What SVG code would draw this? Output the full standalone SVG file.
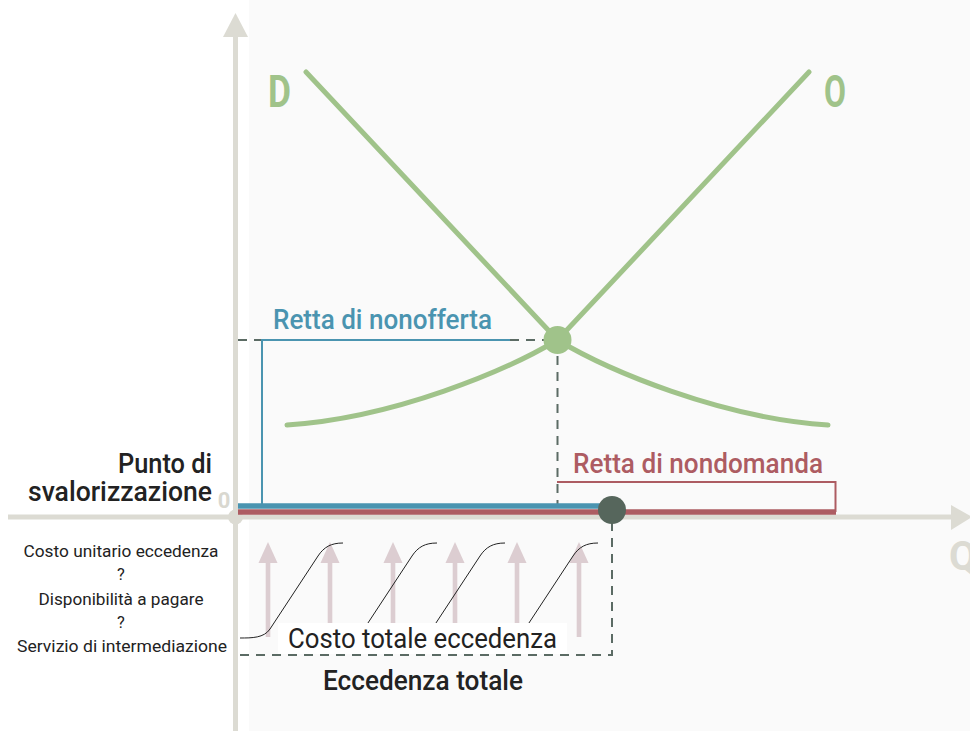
<svg xmlns="http://www.w3.org/2000/svg" width="970" height="731" viewBox="0 0 970 731">
<style>
text{font-family:Roboto,"DejaVu Sans",sans-serif}
.axis{stroke:#dcdbd3;stroke-width:5;fill:none}
.axfill{fill:#dcdbd3}
.dash{stroke:#5b6b64;stroke-width:2;stroke-dasharray:9 7;fill:none}
.curve{stroke:#a0c38a;stroke-width:5;fill:none;stroke-linecap:round}
.blue{stroke:#4a94b0;fill:none}
.red{stroke:#ad5c62;fill:none}
.pink{fill:#dccdd1}
.s{stroke:#222;stroke-width:1;fill:none}
.dark{fill:#222}
.big{font-size:27px;font-weight:500}
.small{font-size:16.5px;fill:#222;text-anchor:middle}
</style>
<defs>
<g id="pa"><polygon class="pink" points="0,542 -9.5,563 9.5,563"/><rect class="pink" x="-2.3" y="560" width="4.6" height="77"/></g>
<path id="sc" class="s" d="M0,95 C12,95 24,95 30,86 L78,13 C84,4 91,0 103,0"/>
</defs>
<rect x="0" y="0" width="970" height="731" fill="#ffffff"/>
<rect x="249" y="0" width="721" height="731" fill="#fafafa"/>
<g id="axes">
<line class="axis" x1="235.5" y1="30" x2="235.5" y2="731"/>
<polygon class="axfill" points="235.5,13 223,37 248,37"/>
<line class="axis" x1="8" y1="517" x2="955" y2="517"/>
<polygon class="axfill" points="972,517 951,505 951,530"/>
<circle class="axfill" cx="235.5" cy="517" r="7.5"/>
<text x="224" y="508" font-size="22" font-weight="700" fill="#d9d8d0" text-anchor="middle">0</text>
<text x="949" y="570" font-size="40" font-weight="700" fill="#dcdbd3">Q</text>
</g>
<g id="connectors">
<line class="dash" x1="238" y1="340" x2="545" y2="340"/>
<line class="dash" x1="557.5" y1="356" x2="557.5" y2="506"/>
<polyline class="dash" points="612,522 612,655 240,655"/>
<path class="blue" stroke-width="2" d="M262,506 V340 H510"/>
<path class="red" stroke-width="2" d="M557,482 H835.5 V512"/>
<line class="red" stroke-width="5.5" x1="238" y1="512" x2="836" y2="512"/>
<line class="blue" stroke-width="5.5" x1="238" y1="506" x2="605" y2="506"/>
</g>
<g id="curve-D">
<path class="curve" d="M306,72 L557.5,340 C607.5,370 720,418 828,425"/>
<text x="268" y="107" font-size="45" font-weight="700" fill="#a0c38a" textLength="23" lengthAdjust="spacingAndGlyphs">D</text>
</g>
<g id="curve-O">
<path class="curve" d="M287,425 C395,418 507.5,370 557.5,340 L809,72"/>
<text x="824" y="107" font-size="45" font-weight="700" fill="#a0c38a" textLength="22" lengthAdjust="spacingAndGlyphs">O</text>
</g>
<g id="equilibrium"><circle cx="557.5" cy="340" r="14" fill="#a0c38a"/></g>
<g id="excess-point"><circle cx="612" cy="510" r="14" fill="#56665c"/></g>
<g id="arrows">
<use href="#pa" x="268"/>
<use href="#pa" x="330"/>
<use href="#pa" x="393"/>
<use href="#pa" x="455"/>
<use href="#pa" x="517"/>
<use href="#pa" x="579"/>
<use href="#sc" x="240" y="543"/>
<use href="#sc" x="334" y="543"/>
<use href="#sc" x="402" y="543"/>
<use href="#sc" x="495" y="543"/>
</g>
<g id="label-costo-totale">
<rect x="278" y="623" width="289" height="31" fill="#ffffff"/>
<text x="288" y="648" font-size="27" fill="#222" textLength="269" lengthAdjust="spacingAndGlyphs">Costo totale eccedenza</text>
</g>
<g id="label-nonofferta"><text class="big" x="273" y="329" fill="#4a94b0" textLength="219" lengthAdjust="spacingAndGlyphs">Retta di nonofferta</text></g>
<g id="label-nondomanda"><text class="big" x="573" y="473" fill="#ad5c62" textLength="250" lengthAdjust="spacingAndGlyphs">Retta di nondomanda</text></g>
<g id="label-punto">
<text class="big dark" x="212" y="473" text-anchor="end" textLength="94" lengthAdjust="spacingAndGlyphs">Punto di</text>
<text class="big dark" x="212" y="501" text-anchor="end" textLength="184" lengthAdjust="spacingAndGlyphs">svalorizzazione</text>
</g>
<g id="label-eccedenza"><text class="big dark" x="323" y="690" font-size="25" textLength="200" lengthAdjust="spacingAndGlyphs">Eccedenza totale</text></g>
<g id="label-left">
<text class="small" x="121" y="557" textLength="195" lengthAdjust="spacingAndGlyphs">Costo unitario eccedenza</text>
<text class="small" x="121" y="580">?</text>
<text class="small" x="121" y="605" textLength="165" lengthAdjust="spacingAndGlyphs">Disponibilità a pagare</text>
<text class="small" x="121" y="628">?</text>
<text class="small" x="122" y="652" textLength="210" lengthAdjust="spacingAndGlyphs">Servizio di intermediazione</text>
</g>
</svg>
